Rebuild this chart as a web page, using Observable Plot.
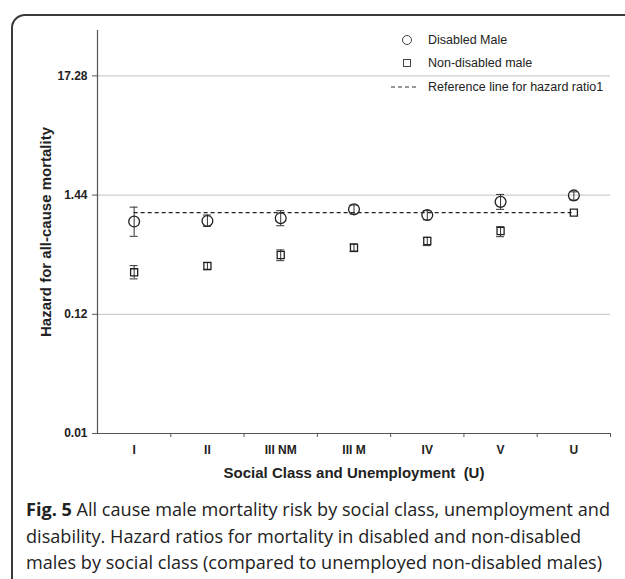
<!DOCTYPE html>
<html><head><meta charset="utf-8">
<script src="https://cdn.jsdelivr.net/npm/d3@7"></script>
<script src="https://cdn.jsdelivr.net/npm/@observablehq/plot@0.6"></script>
<style>
body{margin:0;background:#fff;width:625px;height:579px;overflow:hidden;position:relative;font-family:"Liberation Sans",Arial,sans-serif;}
#frame{position:absolute;left:11px;top:14px;width:660px;height:620px;border:2px solid #3a3a3a;border-radius:14px;box-sizing:border-box;}
#chart{position:absolute;left:0;top:0;}
#legend{position:absolute;left:0;top:0;}
.li{position:absolute;left:428px;font-size:12.5px;color:#222;line-height:14px;white-space:nowrap;}
#caption{position:absolute;left:26px;top:496px;font-family:"Open Sans",sans-serif;font-size:18.1px;line-height:26.5px;color:#222;white-space:nowrap;}
</style></head><body>
<div id="frame"></div>
<div id="chart"></div>
<div id="legend"></div>
<div id="caption"></div>
<script>
const categories = ["I","II","III NM","III M","IV","V","U"];
const disabledHR = [0.83,0.84,0.89,1.07,0.95,1.25,1.43];
const disabledLo = [0.61,0.75,0.76,0.97,0.86,1.07,1.30];
const disabledHi = [1.12,0.95,1.04,1.17,1.04,1.46,1.54];
const nondisabledHR = [0.288,0.329,0.413,0.481,0.553,0.681,1.0];
const nondisabledLo = [0.251,0.303,0.367,0.443,0.502,0.605,null];
const nondisabledHi = [0.331,0.352,0.459,0.520,0.597,0.745,null];
const yTicks = [0.01,0.12,1.44,17.28];
const yTickLabels = ["0.01","0.12","1.44","17.28"];
const yMax = 44.5;
const referenceHR = 1;
const seriesNames = ["Disabled Male","Non-disabled male"];
const referenceLabel = "Reference line for hazard ratio1";
const xTitle = "Social Class and Unemployment  (U)";
const yTitle = "Hazard for all-cause mortality";

const dis = categories.map((c,i)=>({c,i,v:disabledHR[i],lo:disabledLo[i],hi:disabledHi[i]}));
const non = categories.map((c,i)=>({c,i,v:nondisabledHR[i],lo:nondisabledLo[i],hi:nondisabledHi[i]}));
const nonErr = non.filter(d=>d.lo!=null);
const idx = categories.map((c,i)=>i);
const bounds = categories.map((c,i)=>i+0.5);
const ink = "#222";

const plot = Plot.plot({
  width:625, height:500,
  marginLeft:97, marginRight:15, marginTop:30, marginBottom:67,
  style:{fontFamily:"Liberation Sans, Arial, sans-serif", fontSize:"12px", color:ink, background:"transparent", overflow:"visible"},
  x:{type:"linear", domain:[-0.5, categories.length-0.5]},
  y:{type:"log", domain:[yTicks[0], yMax]},
  marks:[
    Plot.ruleY(yTicks.slice(1), {stroke:"#cdcdcd", strokeWidth:1.2}),
    Plot.ruleX([-0.5], {stroke:"#555", strokeWidth:1.2}),
    Plot.ruleY([yTicks[0]], {stroke:"#555", strokeWidth:1.2}),
    Plot.axisY(yTicks, {tickFormat:d=>yTickLabels[yTicks.indexOf(d)], tickSize:5, tickPadding:5, fontWeight:"bold", fontSize:12, label:null, stroke:"#555"}),
    Plot.axisX(bounds, {tickFormat:()=>"", tickSize:4, label:null, stroke:"#555"}),
    Plot.axisX(idx, {tickFormat:i=>categories[i], tickSize:0, tickPadding:12, fontWeight:"bold", fontSize:12, label:null}),
    Plot.text([xTitle], {frameAnchor:"bottom", dy:44, fontWeight:"bold", fontSize:15, fill:ink}),
    Plot.text([yTitle], {frameAnchor:"left", textAnchor:"middle", rotate:-90, dx:-51, fontWeight:"bold", fontSize:15, fill:ink}),
    Plot.ruleY([referenceHR], {x1:0, x2:categories.length-1, stroke:ink, strokeWidth:1.3, strokeDasharray:"4,3"}),
    Plot.ruleX(dis, {x:"i", y1:"lo", y2:"hi", stroke:"#333", strokeWidth:1}),
    Plot.ruleY(dis, {x1:"i", x2:"i", y:"lo", insetLeft:-4, insetRight:-4, stroke:"#333", strokeWidth:1}),
    Plot.ruleY(dis, {x1:"i", x2:"i", y:"hi", insetLeft:-4, insetRight:-4, stroke:"#333", strokeWidth:1}),
    Plot.ruleX(nonErr, {x:"i", y1:"lo", y2:"hi", stroke:"#333", strokeWidth:1}),
    Plot.ruleY(nonErr, {x1:"i", x2:"i", y:"lo", insetLeft:-4, insetRight:-4, stroke:"#333", strokeWidth:1}),
    Plot.ruleY(nonErr, {x1:"i", x2:"i", y:"hi", insetLeft:-4, insetRight:-4, stroke:"#333", strokeWidth:1}),
    Plot.dot(dis, {x:"i", y:"v", r:5.4, stroke:ink, strokeWidth:1.3, fill:"none"}),
    Plot.dot(non, {x:"i", y:"v", symbol:"square", r:4, stroke:ink, strokeWidth:1.3, fill:"none"})
  ]
});
document.getElementById("chart").appendChild(plot);

document.getElementById("legend").innerHTML = `
<svg width="625" height="100" style="position:absolute;left:0;top:0">
 <circle cx="407" cy="40" r="4.5" fill="none" stroke="#444" stroke-width="1"/>
 <rect x="403.5" y="59.5" width="7" height="7" fill="none" stroke="#444" stroke-width="1"/>
 <line x1="391" x2="419" y1="87" y2="87" stroke="#333" stroke-width="1.2" stroke-dasharray="4,3"/>
</svg>
<div class="li" style="top:33px">${seriesNames[0]}</div>
<div class="li" style="top:56px">${seriesNames[1]}</div>
<div class="li" style="top:80px">${referenceLabel}</div>`;

document.getElementById("caption").innerHTML =
 `<b>Fig. 5</b> All cause male mortality risk by social class, unemployment and<br>disability. Hazard ratios for mortality in disabled and non-disabled<br>males by social class (compared to unemployed non-disabled males)`;
</script>
</body></html>
